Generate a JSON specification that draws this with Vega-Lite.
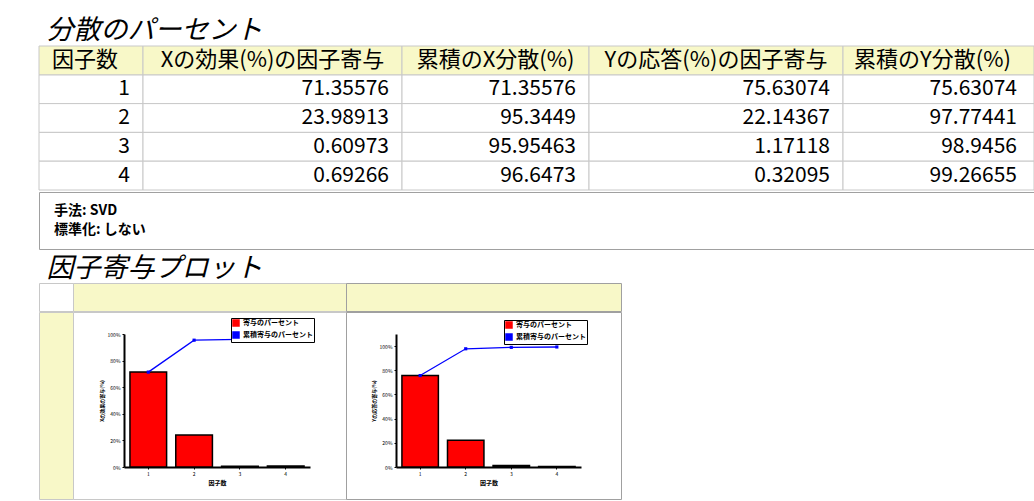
{
  "$schema": "https://vega.github.io/schema/vega-lite/v6.json",
  "padding": {"left": 38, "top": 16, "right": 0, "bottom": 0},
  "background": "white",
  "datasets": {
    "pct": [
      {"factor": 1, "x_contrib": 71.35576, "x_cum": 71.35576, "y_contrib": 75.63074, "y_cum": 75.63074},
      {"factor": 2, "x_contrib": 23.98913, "x_cum": 95.3449, "y_contrib": 22.14367, "y_cum": 97.77441},
      {"factor": 3, "x_contrib": 0.60973, "x_cum": 95.95463, "y_contrib": 1.17118, "y_cum": 98.9456},
      {"factor": 4, "x_contrib": 0.69266, "x_cum": 96.6473, "y_contrib": 0.32095, "y_cum": 99.26655}
    ]
  },
  "spacing": 4,
  "vconcat": [
    {
      "title": {"text": "分散のパーセント", "anchor": "start", "fontSize": 27, "fontStyle": "italic", "fontWeight": "normal", "offset": 1, "dx": 8, "color": "black"},
      "spacing": 0,
      "vconcat": [
        {
          "spacing": 0,
          "bounds": "flush",
          "hconcat": [
            {
              "width": 104, "height": 144, "data": {"name": "pct"},
              "layer": [
                {"mark": {"type": "rect", "fill": "white", "stroke": "#c8c8c8"},
                 "encoding": {"y": {"field": "factor", "type": "ordinal", "scale": {"domain": [0, 1, 2, 3, 4], "paddingInner": 0, "paddingOuter": 0}, "axis": null},
                              "x": {"datum": 0, "type": "quantitative", "scale": {"domain": [0, 1]}, "axis": null}, "x2": {"datum": 1}}},
                {"data": {"values": [{"header": "因子数"}]}, "mark": {"type": "rect", "fill": "#f8f8c8", "stroke": "#c8c8c8"},
                 "encoding": {"y": {"datum": 0, "type": "ordinal"}, "x": {"datum": 0, "type": "quantitative"}, "x2": {"datum": 1}}},
                {"data": {"values": [{"header": "因子数"}]}, "mark": {"type": "text", "fontSize": 22, "align": "center", "dx": -6},
                 "encoding": {"y": {"datum": 0, "type": "ordinal"}, "x": {"datum": 0.5, "type": "quantitative"}, "text": {"field": "header"}}},
                {"mark": {"type": "text", "fontSize": 21, "align": "right", "dx": -13},
                 "encoding": {"y": {"field": "factor", "type": "ordinal"}, "x": {"datum": 1, "type": "quantitative"}, "text": {"field": "factor", "type": "nominal"}}}
              ]
            },
            {
              "width": 259, "height": 144, "data": {"name": "pct"},
              "layer": [
                {"mark": {"type": "rect", "fill": "white", "stroke": "#c8c8c8"},
                 "encoding": {"y": {"field": "factor", "type": "ordinal", "scale": {"domain": [0, 1, 2, 3, 4], "paddingInner": 0, "paddingOuter": 0}, "axis": null},
                              "x": {"datum": 0, "type": "quantitative", "scale": {"domain": [0, 1]}, "axis": null}, "x2": {"datum": 1}}},
                {"data": {"values": [{"header": "Xの効果(%)の因子寄与"}]}, "mark": {"type": "rect", "fill": "#f8f8c8", "stroke": "#c8c8c8"},
                 "encoding": {"y": {"datum": 0, "type": "ordinal"}, "x": {"datum": 0, "type": "quantitative"}, "x2": {"datum": 1}}},
                {"data": {"values": [{"header": "Xの効果(%)の因子寄与"}]}, "mark": {"type": "text", "fontSize": 22, "align": "center"},
                 "encoding": {"y": {"datum": 0, "type": "ordinal"}, "x": {"datum": 0.5, "type": "quantitative"}, "text": {"field": "header"}}},
                {"mark": {"type": "text", "fontSize": 21, "align": "right", "dx": -13},
                 "encoding": {"y": {"field": "factor", "type": "ordinal"}, "x": {"datum": 1, "type": "quantitative"}, "text": {"field": "x_contrib", "type": "nominal"}}}
              ]
            },
            {
              "width": 187, "height": 144, "data": {"name": "pct"},
              "layer": [
                {"mark": {"type": "rect", "fill": "white", "stroke": "#c8c8c8"},
                 "encoding": {"y": {"field": "factor", "type": "ordinal", "scale": {"domain": [0, 1, 2, 3, 4], "paddingInner": 0, "paddingOuter": 0}, "axis": null},
                              "x": {"datum": 0, "type": "quantitative", "scale": {"domain": [0, 1]}, "axis": null}, "x2": {"datum": 1}}},
                {"data": {"values": [{"header": "累積のX分散(%)"}]}, "mark": {"type": "rect", "fill": "#f8f8c8", "stroke": "#c8c8c8"},
                 "encoding": {"y": {"datum": 0, "type": "ordinal"}, "x": {"datum": 0, "type": "quantitative"}, "x2": {"datum": 1}}},
                {"data": {"values": [{"header": "累積のX分散(%)"}]}, "mark": {"type": "text", "fontSize": 22, "align": "center"},
                 "encoding": {"y": {"datum": 0, "type": "ordinal"}, "x": {"datum": 0.5, "type": "quantitative"}, "text": {"field": "header"}}},
                {"mark": {"type": "text", "fontSize": 21, "align": "right", "dx": -13},
                 "encoding": {"y": {"field": "factor", "type": "ordinal"}, "x": {"datum": 1, "type": "quantitative"}, "text": {"field": "x_cum", "type": "nominal"}}}
              ]
            },
            {
              "width": 254, "height": 144, "data": {"name": "pct"},
              "layer": [
                {"mark": {"type": "rect", "fill": "white", "stroke": "#c8c8c8"},
                 "encoding": {"y": {"field": "factor", "type": "ordinal", "scale": {"domain": [0, 1, 2, 3, 4], "paddingInner": 0, "paddingOuter": 0}, "axis": null},
                              "x": {"datum": 0, "type": "quantitative", "scale": {"domain": [0, 1]}, "axis": null}, "x2": {"datum": 1}}},
                {"data": {"values": [{"header": "Yの応答(%)の因子寄与"}]}, "mark": {"type": "rect", "fill": "#f8f8c8", "stroke": "#c8c8c8"},
                 "encoding": {"y": {"datum": 0, "type": "ordinal"}, "x": {"datum": 0, "type": "quantitative"}, "x2": {"datum": 1}}},
                {"data": {"values": [{"header": "Yの応答(%)の因子寄与"}]}, "mark": {"type": "text", "fontSize": 22, "align": "center"},
                 "encoding": {"y": {"datum": 0, "type": "ordinal"}, "x": {"datum": 0.5, "type": "quantitative"}, "text": {"field": "header"}}},
                {"mark": {"type": "text", "fontSize": 21, "align": "right", "dx": -13},
                 "encoding": {"y": {"field": "factor", "type": "ordinal"}, "x": {"datum": 1, "type": "quantitative"}, "text": {"field": "y_contrib", "type": "nominal"}}}
              ]
            },
            {
              "width": 191, "height": 144, "data": {"name": "pct"},
              "layer": [
                {"mark": {"type": "rect", "fill": "white", "stroke": "#c8c8c8"},
                 "encoding": {"y": {"field": "factor", "type": "ordinal", "scale": {"domain": [0, 1, 2, 3, 4], "paddingInner": 0, "paddingOuter": 0}, "axis": null},
                              "x": {"datum": 0, "type": "quantitative", "scale": {"domain": [0, 1]}, "axis": null}, "x2": {"datum": 1}}},
                {"data": {"values": [{"header": "累積のY分散(%)"}]}, "mark": {"type": "rect", "fill": "#f8f8c8", "stroke": "#c8c8c8"},
                 "encoding": {"y": {"datum": 0, "type": "ordinal"}, "x": {"datum": 0, "type": "quantitative"}, "x2": {"datum": 1}}},
                {"data": {"values": [{"header": "累積のY分散(%)"}]}, "mark": {"type": "text", "fontSize": 22, "align": "center", "dx": -6},
                 "encoding": {"y": {"datum": 0, "type": "ordinal"}, "x": {"datum": 0.5, "type": "quantitative"}, "text": {"field": "header"}}},
                {"mark": {"type": "text", "fontSize": 21, "align": "right", "dx": -17},
                 "encoding": {"y": {"field": "factor", "type": "ordinal"}, "x": {"datum": 1, "type": "quantitative"}, "text": {"field": "y_cum", "type": "nominal"}}}
              ]
            }
          ]
        },
        {
          "width": 995, "height": 57,
          "view": {"stroke": "#a0a0a0", "fill": "white"},
          "data": {"values": [{"note": "手法: SVD"}, {"note": "標準化: しない"}]},
          "mark": {"type": "text", "align": "left", "fontSize": 14, "fontWeight": "bold", "dx": 15},
          "encoding": {
            "x": {"datum": 0, "type": "quantitative", "scale": {"domain": [0, 1]}, "axis": null},
            "y": {"field": "note", "type": "nominal", "sort": null, "scale": {"type": "point", "padding": 1.1}, "axis": null},
            "text": {"field": "note"}
          }
        }
      ]
    },
    {
      "title": {"text": "因子寄与プロット", "anchor": "start", "fontSize": 27, "fontStyle": "italic", "fontWeight": "normal", "offset": 0, "dx": 8, "color": "black"},
      "spacing": -3,
      "vconcat": [
        {
          "spacing": 0,
          "bounds": "flush",
          "hconcat": [
            {"width": 34, "height": 28, "view": {"fill": "white", "stroke": "#c8c8c8"}, "data": {"values": [{}]}, "mark": {"type": "text", "text": ""}, "encoding": {}},
            {"width": 273, "height": 28, "view": {"fill": "#f8f8c8", "stroke": "#c8c8c8"}, "data": {"values": [{}]}, "mark": {"type": "text", "text": ""}, "encoding": {}},
            {"width": 275, "height": 28, "view": {"fill": "#f8f8c8", "stroke": "#a0a0a0"}, "data": {"values": [{}]}, "mark": {"type": "text", "text": ""}, "encoding": {}}
          ]
        },
        {
          "spacing": 0,
          "bounds": "flush",
          "resolve": {"scale": {"color": "independent"}, "legend": {"color": "independent"}},
          "hconcat": [
            {"width": 34, "height": 187, "view": {"fill": "#f8f8c8", "stroke": "#c8c8c8"}, "data": {"values": [{}]}, "mark": {"type": "text", "text": ""}, "encoding": {}},
            {
              "width": 273, "height": 187,
              "view": {"stroke": "#c8c8c8", "fill": "white"},
              "data": {"name": "pct"},
              "layer": [
                {"mark": {"type": "bar", "stroke": "black", "strokeWidth": 1.5},
                 "encoding": {
                   "x": {"field": "factor", "type": "ordinal", "scale": {"range": [51, 237], "paddingInner": 0.2, "paddingOuter": 0.13},
                         "axis": {"title": "因子数", "labelAngle": 0, "offset": -32, "labelFontSize": 5, "titleFontSize": 6, "titleFontWeight": "bold", "tickSize": 2, "domainWidth": 2, "domainColor": "black", "tickColor": "black", "labelPadding": 2, "titlePadding": 3}},
                   "y": {"field": "x_contrib", "type": "quantitative", "scale": {"domain": [0, 100], "range": [155, 22], "nice": false},
                         "axis": {"title": "Xの効果の寄与(%)", "values": [0, 20, 40, 60, 80, 100], "labelOverlap": false, "labelSeparation": 0, "labelExpr": "datum.value + '%'", "offset": -51, "labelFontSize": 5, "titleFontSize": 5, "titleFontWeight": "bold", "tickSize": 2, "domainWidth": 2, "domainColor": "black", "tickColor": "black", "labelPadding": 2, "titlePadding": 3}},
                   "color": {"datum": "寄与のパーセント", "type": "nominal", "scale": {"domain": ["寄与のパーセント", "累積寄与のパーセント"], "range": ["#ff0000", "#0000ff"]},
                             "legend": {"orient": "none", "legendX": 158, "legendY": 6, "title": null, "strokeColor": "black", "fillColor": "white", "padding": 1, "labelFontSize": 7, "labelFontWeight": "bold", "symbolSize": 36, "rowPadding": 0, "symbolType": "square", "labelOffset": 3}}
                 }},
                {"mark": {"type": "line", "strokeWidth": 1.3, "point": {"shape": "square", "size": 10, "filled": true}},
                 "encoding": {
                   "x": {"field": "factor", "type": "ordinal"},
                   "y": {"field": "x_cum", "type": "quantitative",
                         "axis": {"title": "Xの効果の寄与(%)", "values": [0, 20, 40, 60, 80, 100], "labelOverlap": false, "labelSeparation": 0, "labelExpr": "datum.value + '%'", "offset": -51, "labelFontSize": 5, "titleFontSize": 5, "titleFontWeight": "bold", "tickSize": 2, "domainWidth": 2, "domainColor": "black", "tickColor": "black", "labelPadding": 2, "titlePadding": 3}},
                   "color": {"datum": "累積寄与のパーセント", "type": "nominal"}
                 }}
              ]
            },
            {
              "width": 275, "height": 187,
              "view": {"stroke": "#a0a0a0", "fill": "white"},
              "data": {"name": "pct"},
              "layer": [
                {"mark": {"type": "bar", "stroke": "black", "strokeWidth": 1.5},
                 "encoding": {
                   "x": {"field": "factor", "type": "ordinal", "scale": {"range": [50, 235], "paddingInner": 0.2, "paddingOuter": 0.13},
                         "axis": {"title": "因子数", "labelAngle": 0, "offset": -32, "labelFontSize": 5, "titleFontSize": 6, "titleFontWeight": "bold", "tickSize": 2, "domainWidth": 2, "domainColor": "black", "tickColor": "black", "labelPadding": 2, "titlePadding": 3}},
                   "y": {"field": "y_contrib", "type": "quantitative", "scale": {"domain": [0, 110], "range": [155, 22], "nice": false},
                         "axis": {"title": "Yの応答の寄与(%)", "values": [0, 20, 40, 60, 80, 100], "labelOverlap": false, "labelSeparation": 0, "labelExpr": "datum.value + '%'", "offset": -50, "labelFontSize": 5, "titleFontSize": 5, "titleFontWeight": "bold", "tickSize": 2, "domainWidth": 2, "domainColor": "black", "tickColor": "black", "labelPadding": 2, "titlePadding": 3}},
                   "color": {"datum": "寄与のパーセント", "type": "nominal", "scale": {"domain": ["寄与のパーセント", "累積寄与のパーセント"], "range": ["#ff0000", "#0000ff"]},
                             "legend": {"orient": "none", "legendX": 158, "legendY": 8, "title": null, "strokeColor": "black", "fillColor": "white", "padding": 1, "labelFontSize": 7, "labelFontWeight": "bold", "symbolSize": 36, "rowPadding": 0, "symbolType": "square", "labelOffset": 3}}
                 }},
                {"mark": {"type": "line", "strokeWidth": 1.3, "point": {"shape": "square", "size": 10, "filled": true}},
                 "encoding": {
                   "x": {"field": "factor", "type": "ordinal"},
                   "y": {"field": "y_cum", "type": "quantitative",
                         "axis": {"title": "Yの応答の寄与(%)", "values": [0, 20, 40, 60, 80, 100], "labelOverlap": false, "labelSeparation": 0, "labelExpr": "datum.value + '%'", "offset": -50, "labelFontSize": 5, "titleFontSize": 5, "titleFontWeight": "bold", "tickSize": 2, "domainWidth": 2, "domainColor": "black", "tickColor": "black", "labelPadding": 2, "titlePadding": 3}},
                   "color": {"datum": "累積寄与のパーセント", "type": "nominal"}
                 }}
              ]
            }
          ]
        }
      ]
    }
  ],
  "config": {
    "font": "Noto Sans CJK JP",
    "view": {"stroke": null},
    "axis": {"grid": false, "labelFont": "Noto Sans CJK JP", "titleFont": "Noto Sans CJK JP", "labelColor": "black", "titleColor": "black"},
    "legend": {"labelFont": "Noto Sans CJK JP", "labelColor": "black"},
    "title": {"font": "Noto Sans CJK JP"},
    "text": {"font": "Noto Sans CJK JP", "color": "black"},
    "concat": {"spacing": 0}
  }
}
